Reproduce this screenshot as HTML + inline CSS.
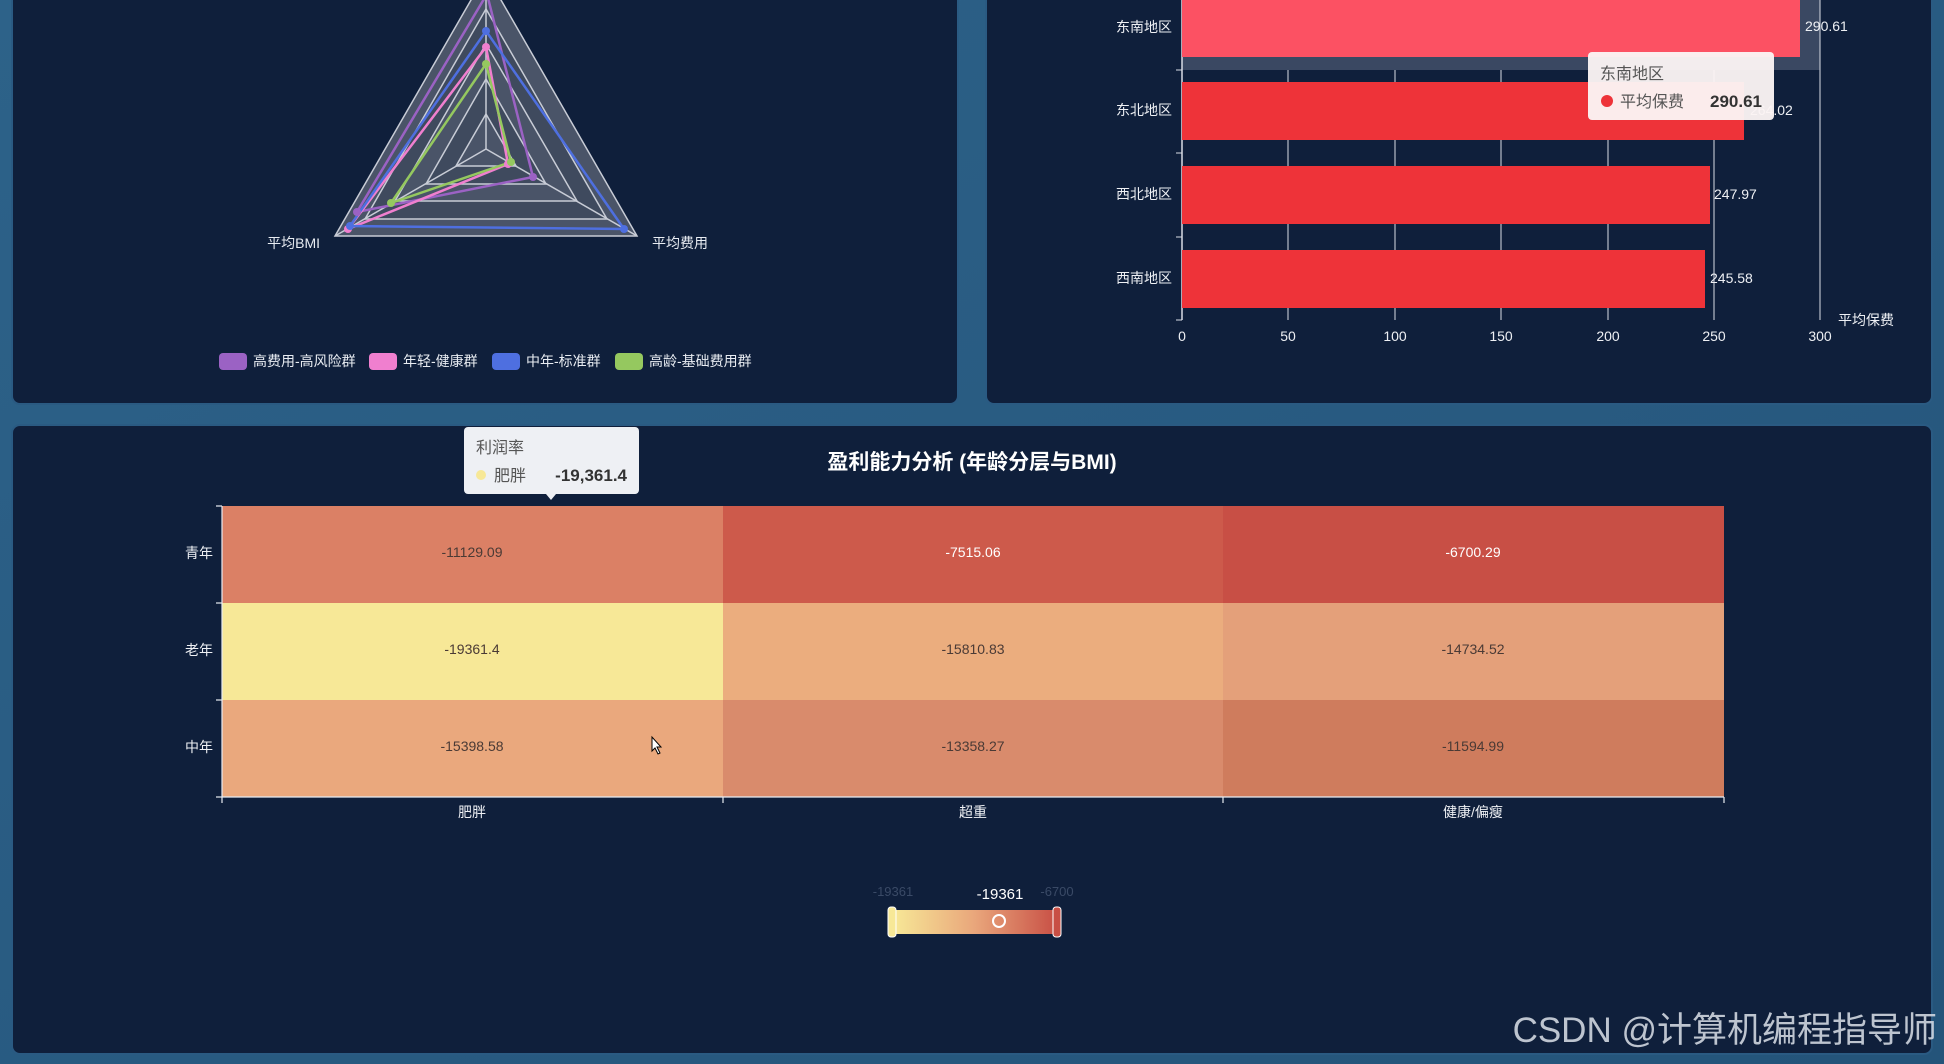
<!DOCTYPE html>
<html><head><meta charset="utf-8"><style>
html,body{margin:0;padding:0;width:1944px;height:1064px;overflow:hidden;background:#2b5779;}
svg{display:block;font-family:"Liberation Sans","Noto Sans CJK SC",sans-serif;}
</style></head><body>
<svg width="1944" height="1064" viewBox="0 0 1944 1064">
<defs>
<linearGradient id="bg" x1="0" y1="0" x2="1" y2="1"><stop offset="0" stop-color="#2d6289"/><stop offset="1" stop-color="#24547a"/></linearGradient>
<linearGradient id="vm" x1="0" x2="1"><stop offset="0" stop-color="#f7e897"/><stop offset="0.5" stop-color="#e9a67b"/><stop offset="1" stop-color="#c84f45"/></linearGradient>
</defs>
<rect width="1944" height="1064" fill="url(#bg)"/>
<!-- panels -->
<rect x="12" y="-10" width="946" height="414" rx="8" fill="#0f1f3b" stroke="#2a5a82" stroke-width="2"/>
<rect x="986" y="-10" width="946" height="414" rx="8" fill="#0f1f3b" stroke="#2a5a82" stroke-width="2"/>
<rect x="12" y="425" width="1920" height="629" rx="8" fill="#0f1f3b" stroke="#2a5a82" stroke-width="2"/>

<!-- radar -->
<g stroke="#c8ccd6" stroke-width="1.5">
<polygon points="486,-26 637,236 335,236" fill="#4a5468"/>
<polygon points="486,9 607,219 365,219" fill="#3f4a5e"/>
<polygon points="486,44 577,201 395,201" fill="#4a5468"/>
<polygon points="486,79 546,184 426,184" fill="#3f4a5e"/>
<polygon points="486,114 516,166 456,166" fill="#4a5468"/>
<line x1="486" y1="149" x2="486" y2="-26"/><line x1="486" y1="149" x2="637" y2="236"/><line x1="486" y1="149" x2="335" y2="236"/>
</g>
<g fill="none" stroke-width="2.5">
<polygon points="487,-6 533,177 357,212" stroke="#9b62c4"/>
<polygon points="486,47 508,164 348,229" stroke="#f07fcf"/>
<polygon points="486,31 624,229 350,226" stroke="#4e6fe0"/>
<polygon points="486,64 511,162 391,203" stroke="#95c85f"/>
</g>
<g>
<circle cx="533" cy="177" r="4" fill="#9b62c4"/><circle cx="357" cy="212" r="4" fill="#9b62c4"/>
<circle cx="486" cy="47" r="4" fill="#f07fcf"/><circle cx="508" cy="164" r="4" fill="#f07fcf"/><circle cx="348" cy="229" r="4" fill="#f07fcf"/>
<circle cx="486" cy="31" r="4" fill="#4e6fe0"/><circle cx="624" cy="229" r="4" fill="#4e6fe0"/><circle cx="350" cy="226" r="4" fill="#4e6fe0"/>
<circle cx="486" cy="64" r="4" fill="#95c85f"/><circle cx="511" cy="162" r="4" fill="#95c85f"/><circle cx="391" cy="203" r="4" fill="#95c85f"/>
</g>
<g fill="#e8ecf2" font-size="14">
<text x="320" y="248" text-anchor="end">平均BMI</text>
<text x="652" y="248">平均费用</text>
</g>
<g font-size="14" fill="#e8ecf2">
<rect x="219" y="353" width="28" height="17" rx="4" fill="#9b62c4"/><text x="253" y="366">高费用-高风险群</text>
<rect x="369" y="353" width="28" height="17" rx="4" fill="#f07fcf"/><text x="403" y="366">年轻-健康群</text>
<rect x="492" y="353" width="28" height="17" rx="4" fill="#4e6fe0"/><text x="526" y="366">中年-标准群</text>
<rect x="615" y="353" width="28" height="17" rx="4" fill="#95c85f"/><text x="649" y="366">高龄-基础费用群</text>
</g>

<!-- bar chart -->
<rect x="1182" y="-5" width="638" height="75" fill="#3a4862"/>
<g stroke="#d8dce4" stroke-width="1">
<line x1="1288" y1="70" x2="1288" y2="320"/><line x1="1395" y1="70" x2="1395" y2="320"/>
<line x1="1501" y1="70" x2="1501" y2="320"/><line x1="1608" y1="70" x2="1608" y2="320"/>
<line x1="1714" y1="70" x2="1714" y2="320"/><line x1="1820" y1="0" x2="1820" y2="320"/>
<line x1="1182" y1="0" x2="1182" y2="320" stroke-width="1.5"/>
<line x1="1176" y1="70" x2="1182" y2="70"/><line x1="1176" y1="153" x2="1182" y2="153"/><line x1="1176" y1="237" x2="1182" y2="237"/><line x1="1176" y1="320" x2="1182" y2="320"/>
</g>
<rect x="1182" y="-2" width="618" height="59" fill="#fc5163"/>
<rect x="1182" y="82" width="562" height="58" fill="#ee3339"/>
<rect x="1182" y="166" width="528" height="58" fill="#ee3339"/>
<rect x="1182" y="250" width="523" height="58" fill="#ee3339"/>
<g fill="#eef0f4" font-size="14">
<text x="1172" y="32" text-anchor="end">东南地区</text>
<text x="1172" y="115" text-anchor="end">东北地区</text>
<text x="1172" y="199" text-anchor="end">西北地区</text>
<text x="1172" y="283" text-anchor="end">西南地区</text>
<text x="1805" y="31">290.61</text>
<text x="1750" y="115">264.02</text>
<text x="1714" y="199">247.97</text>
<text x="1710" y="283">245.58</text>
<g text-anchor="middle">
<text x="1182" y="341">0</text><text x="1288" y="341">50</text><text x="1395" y="341">100</text><text x="1501" y="341">150</text><text x="1608" y="341">200</text><text x="1714" y="341">250</text><text x="1820" y="341">300</text>
</g>
<text x="1838" y="325">平均保费</text>
</g>
<rect x="1588" y="52" width="186" height="68" rx="4" fill="#fbf4f4" opacity="0.96"/>
<text x="1600" y="79" font-size="16" fill="#555">东南地区</text>
<circle cx="1607" cy="101" r="6" fill="#ee3339"/>
<text x="1620" y="107" font-size="16" fill="#555">平均保费</text>
<text x="1762" y="107" font-size="17" font-weight="bold" fill="#333" text-anchor="end">290.61</text>

<!-- heatmap -->
<text x="972" y="469" text-anchor="middle" font-size="21" font-weight="bold" fill="#ffffff">盈利能力分析 (年龄分层与BMI)</text>
<rect x="222" y="506" width="501" height="97" fill="#db8065"/>
<rect x="723" y="506" width="500" height="97" fill="#cd5a4b"/>
<rect x="1223" y="506" width="501" height="97" fill="#c84f45"/>
<rect x="222" y="603" width="501" height="97" fill="#f7e897"/>
<rect x="723" y="603" width="500" height="97" fill="#ebad7e"/>
<rect x="1223" y="603" width="501" height="97" fill="#e4a07a"/>
<rect x="222" y="700" width="501" height="97" fill="#eaa87d"/>
<rect x="723" y="700" width="500" height="97" fill="#d98b6c"/>
<rect x="1223" y="700" width="501" height="97" fill="#cf7c5d"/>
<g stroke="#e8ecf2" stroke-width="1.2">
<line x1="222" y1="506" x2="222" y2="797"/><line x1="216" y1="506" x2="222" y2="506"/><line x1="216" y1="603" x2="222" y2="603"/><line x1="216" y1="700" x2="222" y2="700"/><line x1="216" y1="797" x2="222" y2="797"/>
<line x1="222" y1="797" x2="1724" y2="797"/><line x1="222" y1="797" x2="222" y2="803"/><line x1="723" y1="797" x2="723" y2="803"/><line x1="1223" y1="797" x2="1223" y2="803"/><line x1="1724" y1="797" x2="1724" y2="803"/>
</g>
<g font-size="14" text-anchor="middle">
<text x="472" y="557" fill="#4a3a35">-11129.09</text>
<text x="973" y="557" fill="#ffffff">-7515.06</text>
<text x="1473" y="557" fill="#ffffff">-6700.29</text>
<text x="472" y="654" fill="#4a3a35">-19361.4</text>
<text x="973" y="654" fill="#4a3a35">-15810.83</text>
<text x="1473" y="654" fill="#4a3a35">-14734.52</text>
<text x="472" y="751" fill="#4a3a35">-15398.58</text>
<text x="973" y="751" fill="#4a3a35">-13358.27</text>
<text x="1473" y="751" fill="#4a3a35">-11594.99</text>
</g>
<g font-size="14" fill="#eef0f4">
<text x="213" y="558" text-anchor="end">青年</text>
<text x="213" y="655" text-anchor="end">老年</text>
<text x="213" y="752" text-anchor="end">中年</text>
<g text-anchor="middle"><text x="472" y="817">肥胖</text><text x="973" y="817">超重</text><text x="1473" y="817">健康/偏瘦</text></g>
</g>
<!-- visual map -->
<text x="893" y="896" font-size="13" fill="#3a4a66" text-anchor="middle">-19361</text>
<text x="1057" y="896" font-size="13" fill="#3a4a66" text-anchor="middle">-6700</text>
<text x="1000" y="899" font-size="15" fill="#ffffff" text-anchor="middle">-19361</text>
<rect x="893" y="910" width="164" height="24" fill="url(#vm)"/>
<rect x="888" y="907" width="8" height="30" rx="3" fill="#f7e897" stroke="#fff" stroke-width="1"/>
<rect x="1053" y="907" width="8" height="30" rx="3" fill="#c84f45" stroke="#fff" stroke-width="1"/>
<circle cx="999" cy="921" r="6" fill="none" stroke="#fff" stroke-width="2"/>
<!-- heatmap tooltip -->
<rect x="464" y="427" width="175" height="67" rx="4" fill="#eef0f4"/>
<polygon points="546,494 556,494 551,500" fill="#eef0f4"/>
<text x="476" y="453" font-size="16" fill="#555">利润率</text>
<circle cx="481" cy="475" r="5" fill="#f7e897"/>
<text x="494" y="481" font-size="16" fill="#555">肥胖</text>
<text x="627" y="481" font-size="17" font-weight="bold" fill="#333" text-anchor="end">-19,361.4</text>
<!-- cursor -->
<path d="M652,737 l0,14 l3,-3 l3,6 l2,-1 l-3,-6 l4,0 z" fill="#fff" stroke="#000" stroke-width="1"/>
<!-- watermark -->
<text x="1937" y="1042" font-size="35" fill="#d0d6e0" text-anchor="end" opacity="0.9">CSDN @计算机编程指导师</text>
</svg>
</body></html>
